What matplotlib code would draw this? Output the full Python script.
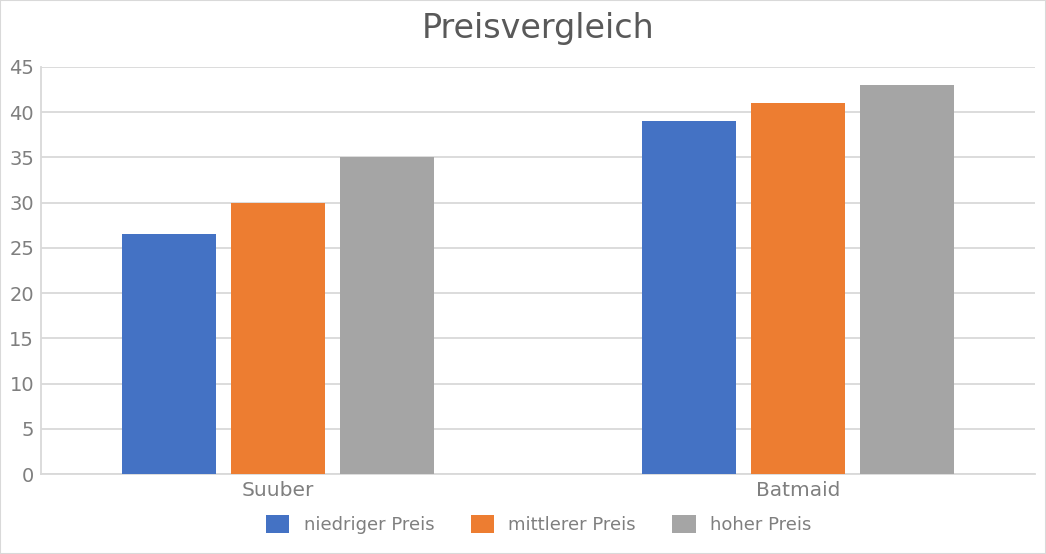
import matplotlib
matplotlib.use("Agg")
import matplotlib.pyplot as plt
import numpy as np

# Daten
kategorien = ["Suuber", "Batmaid"]
niedriger_preis = [26.5, 39]
mittlerer_preis = [30, 41]
hoher_preis = [35, 43]
serien = ["niedriger Preis", "mittlerer Preis", "hoher Preis"]
farben = ["#4472C4", "#ED7D31", "#A5A5A5"]

plt.rcParams['font.family'] = ['DejaVu Sans']

fig = plt.figure(figsize=(10.46, 5.54), dpi=100)
ax = fig.add_axes([41 / 1046, 80 / 554, 994 / 1046, 407 / 554])

x = np.arange(len(kategorien))
breite = 0.181
abstand = 0.2096
for i, (werte, name, farbe) in enumerate(zip([niedriger_preis, mittlerer_preis, hoher_preis], serien, farben)):
    ax.bar(x + (i - 1) * abstand, werte, breite, color=farbe, label=name, zorder=3)

ax.set_xlim(-0.4558, 1.4558)
ax.set_ylim(0, 45)
ax.set_yticks(range(0, 46, 5))
ax.set_xticks(x)
ax.set_xticklabels(kategorien, fontsize=14.5)
ax.grid(axis='y', color='#d9d9d9', linewidth=1.3, zorder=0)
for s in ['top', 'right']:
    ax.spines[s].set_visible(False)
for s in ['left', 'bottom']:
    ax.spines[s].set_color('#d9d9d9')
    ax.spines[s].set_linewidth(1.3)
ax.tick_params(axis='y', length=0, colors='#7f7f7f', labelsize=14, pad=5)
ax.tick_params(axis='x', length=0, colors='#7f7f7f', pad=5)

fig.suptitle("Preisvergleich", x=0.514, y=0.978, fontsize=24, color='#595959')

fig.legend(loc='center', bbox_to_anchor=(0.515, 0.053), ncol=3, frameon=False,
           fontsize=13, labelcolor='#7f7f7f', handlelength=1.3, handleheight=1.1,
           columnspacing=2.0, handletextpad=0.8)

# Rahmen
fig.patches.append(plt.Rectangle((0, 0), 1, 1, transform=fig.transFigure,
                                 fill=False, edgecolor='#d9d9d9', linewidth=1.5))

fig.savefig("out.png", dpi=100)
